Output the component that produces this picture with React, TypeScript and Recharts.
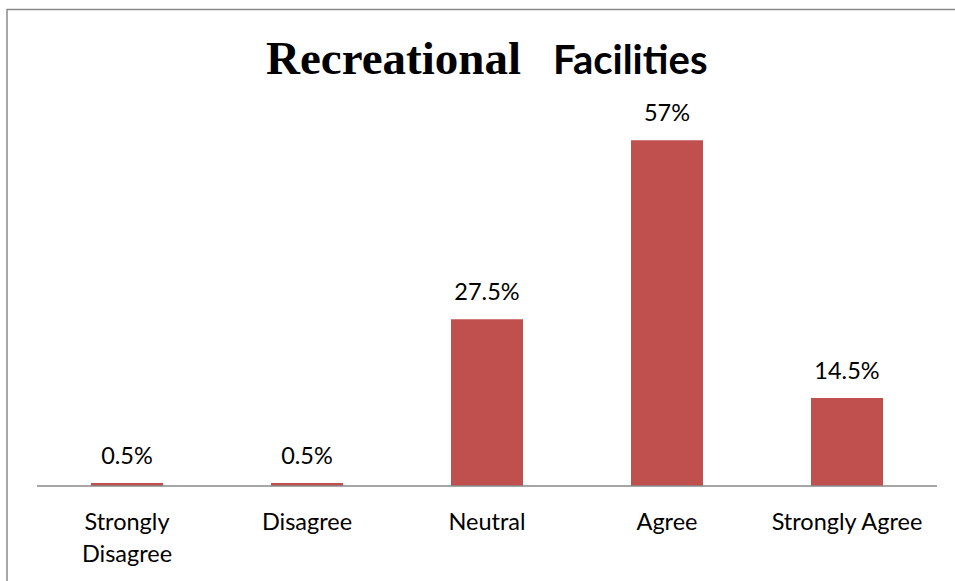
import React from "react";
import { BarChart, Bar, XAxis, YAxis, LabelList } from "recharts";

const categories = [
  "Strongly Disagree",
  "Disagree",
  "Neutral",
  "Agree",
  "Strongly Agree",
];
const shares = [0.5, 0.5, 27.5, 57, 14.5];
const yDomain = [0, 60];

const data = categories.map((name, i) => ({ name, share: shares[i] }));

const labelFont = "Lato, 'Open Sans', sans-serif";

// Excel wraps the long category name onto two lines
function CategoryTick(props: any) {
  const { x, y, payload } = props;
  const label: string = payload.value;
  let lines = [label];
  if (label.length > 15) {
    const cut = label.indexOf(" ");
    lines = [label.slice(0, cut), label.slice(cut + 1)];
  }
  return (
    <text
      x={x}
      y={y}
      textAnchor="middle"
      fontFamily={labelFont}
      fontSize={23.5}
      fill="#000"
    >
      {lines.map((l, i) => (
        <tspan key={i} x={x} dy={i === 0 ? 44 : 32}>
          {l}
        </tspan>
      ))}
    </text>
  );
}

function App() {
  return (
    <div
      style={{
        position: "absolute",
        left: 0,
        top: 0,
        width: 955,
        height: 581,
        background: "#fff",
      }}
    >
      <BarChart
        width={955}
        height={581}
        data={data}
        margin={{ top: 122, right: 18, bottom: 35, left: 37 }}
        barCategoryGap="30%"
      >
        <XAxis
          dataKey="name"
          height={60}
          tickLine={false}
          tickSize={0}
          tickMargin={0}
          axisLine={{ stroke: "#898989", strokeWidth: 1.5 }}
          tick={<CategoryTick />}
          interval={0}
        />
        <YAxis hide domain={yDomain} />
        <Bar dataKey="share" fill="#C0504D" isAnimationActive={false}>
          <LabelList
            dataKey="share"
            position="top"
            offset={19}
            formatter={(v: any) => `${v}%`}
            fill="#000"
            fontFamily={labelFont}
            fontSize={23.5}
          />
        </Bar>
      </BarChart>
      <svg
        width={955}
        height={581}
        style={{ position: "absolute", left: 0, top: 0, pointerEvents: "none" }}
      >
        <rect
          x={7}
          y={9.5}
          width={1000}
          height={600}
          fill="none"
          stroke="#8a8a8a"
          strokeWidth={1.5}
        />
        <text x={266} y={74} fill="#000">
          <tspan
            fontFamily="'Liberation Serif', 'Times New Roman', serif"
            fontWeight="bold"
            fontSize={47}
          >
            Recreational
          </tspan>
          <tspan
            x={553}
            fontFamily={labelFont}
            fontWeight="bold"
            fontSize={40}
          >
            Facilities
          </tspan>
        </text>
      </svg>
    </div>
  );
}

export default App;
